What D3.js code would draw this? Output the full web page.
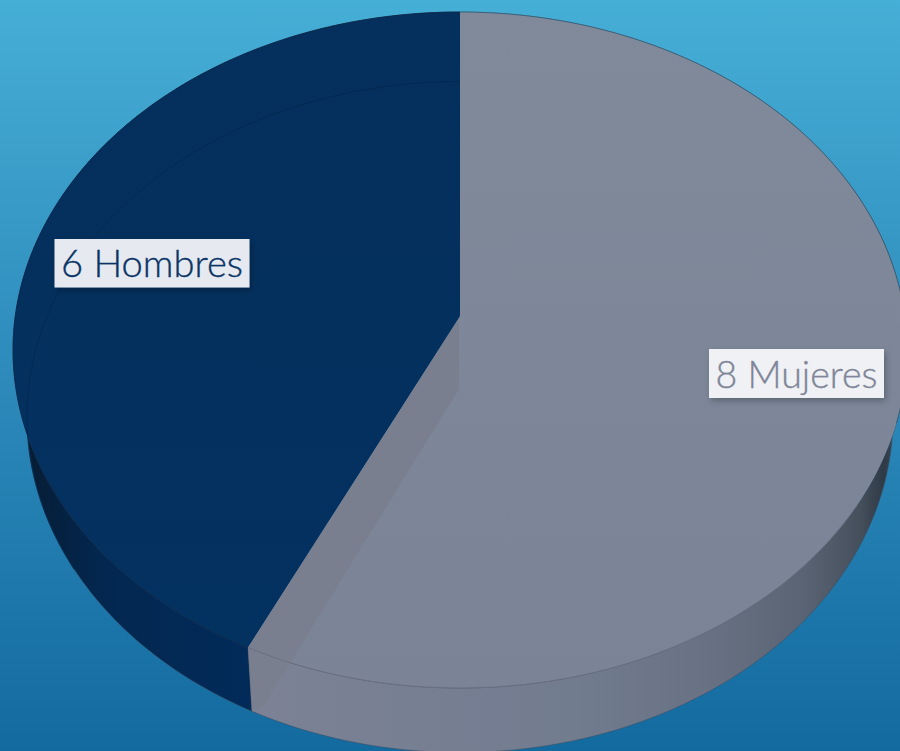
<!DOCTYPE html>
<html><head><meta charset="utf-8">
<script src="https://cdn.jsdelivr.net/npm/d3@7"></script>
<style>html,body{margin:0;padding:0;background:#2a85b8}svg{display:block}</style></head>
<body><svg id="c" width="900" height="751"></svg>
<script>
const categories = ["Mujeres", "Hombres"];
const values = [8, 6];
const labels = ["8 Mujeres", "6 Hombres"];
const topColors = ["#7c8698", "#04305e"];
const textColors = ["#7f8699", "#0a3566"];
const boxFills = ["#f0f1f4", "#e6e9f0"];
const W = 900, H = 751;
const topRim = {cx:460, cy:350, rx:447, ry:338, k:-0.1};
const botRim = {cx:460, cy:417, rx:433, ry:335.5, k:-0.115};
const cutBottom = {x:263, y:707, apexX:459, apexY:389};
const boxes = [{x:709,y:349,w:175,h:49},{x:54.5,y:239,w:195,h:48.5}];

function project(p, a){
  const u = Math.sin(a), v = -Math.cos(a), d = 1 + p.k*v;
  return [p.cx + p.rx*u*Math.sqrt(1-p.k*p.k)/d, p.cy + p.ry*(v+p.k)/d];
}
const arcs = d3.pie().sort(null)(values);
const samples = (s,e) => d3.range(0,181).map(i => s+(e-s)*i/180);
const line = d3.line();
const svg = d3.select("#c");
const defs = svg.append("defs");
function grad(id,attrs,stops){
  const g = defs.append("linearGradient").attr("id",id).attr("gradientUnits","userSpaceOnUse");
  Object.entries(attrs).forEach(([k,v])=>g.attr(k,v));
  stops.forEach(([o,c])=>g.append("stop").attr("offset",o).attr("stop-color",c));
}
grad("bg",{x1:0,y1:0,x2:0,y2:H},[[0,"#46afd6"],[0.5,"#2d8abb"],[1,"#136a9f"]]);
grad("wall0",{x1:250,y1:0,x2:900,y2:0},[[0,"#7d8295"],[0.25,"#777f93"],[0.5,"#727c8f"],[0.7,"#687284"],[0.85,"#5a6474"],[0.94,"#454f5c"],[0.975,"#2f3a47"],[0.99,"#3a4552"],[1,"#6f7a8a"]]);
grad("wall1",{x1:15,y1:0,x2:255,y2:0},[[0,"#081a2e"],[0.12,"#061f3b"],[0.35,"#03274f"],[1,"#022b5a"]]);
grad("top0",{x1:0,y1:0,x2:0,y2:700},[[0,"#808a9b"],[1,"#7a8496"]]);
grad("top1",{x1:0,y1:0,x2:0,y2:650},[[0,"#052f5c"],[1,"#033160"]]);
const shadow = defs.append("filter").attr("id","sh").attr("x","-10%").attr("y","-20%").attr("width","125%").attr("height","150%");
shadow.append("feDropShadow").attr("dx",2).attr("dy",3).attr("stdDeviation",3).attr("flood-color","#000").attr("flood-opacity",0.25);

svg.append("rect").attr("width",W).attr("height",H).attr("fill","url(#bg)");

// outer side walls
svg.selectAll("path.wall").data(arcs).join("path").attr("class","wall")
  .attr("d",d=>{
    const a = samples(d.startAngle,d.endAngle);
    return line([...a.map(x=>project(topRim,x)),...a.slice().reverse().map(x=>project(botRim,x))])+"Z";
  })
  .attr("fill",(d,i)=>`url(#wall${i})`).attr("stroke","#3b4a5c").attr("stroke-width",0.5);

// top faces
const apexPt = [topRim.cx, topRim.cy + topRim.ry*topRim.k];
svg.selectAll("path.face").data(arcs).join("path").attr("class","face")
  .attr("d",d=>line([apexPt,...samples(d.startAngle,d.endAngle).map(x=>project(topRim,x))])+"Z")
  .attr("fill",(d,i)=>`url(#top${i})`);

// faint back rim of the base, seen through the dark slice
const dark = arcs[1];
svg.append("path").attr("fill","none").attr("stroke","#02274f").attr("stroke-width",0.8)
  .attr("d",line(samples(dark.startAngle+0.55,dark.endAngle).map(x=>project(botRim,x))));

// cut face of the grey slice, seen through its top
const seamAngle = arcs[0].endAngle;
const seamTop = project(topRim,seamAngle), seamBot = project(botRim,seamAngle);
svg.append("path").attr("fill","#7a7e8f").attr("fill-opacity",0.9)
  .attr("d",line([apexPt,seamTop,seamBot,[cutBottom.x,cutBottom.y],[cutBottom.apexX,cutBottom.apexY],[cutBottom.apexX,apexPt[1]]])+"Z");

// front rim line on grey slice
svg.append("path").attr("fill","none").attr("stroke","#6c7080").attr("stroke-width",1)
  .attr("d",line(samples(Math.PI*0.68,seamAngle).map(x=>project(topRim,x))));

// thin outline
svg.append("path").attr("fill","none").attr("stroke","#2b5670").attr("stroke-width",0.7)
  .attr("d",line(samples(0,Math.PI*0.6).map(x=>project(topRim,x))));
svg.append("path").attr("fill","none").attr("stroke","#0a2a4c").attr("stroke-width",0.8)
  .attr("d",line(samples(seamAngle,Math.PI*2).map(x=>project(topRim,x))));

// labels
const lab = svg.selectAll("g.lab").data(labels).join("g").attr("class","lab");
lab.append("rect").attr("x",(d,i)=>boxes[i].x).attr("y",(d,i)=>boxes[i].y)
  .attr("width",(d,i)=>boxes[i].w).attr("height",(d,i)=>boxes[i].h)
  .attr("fill",(d,i)=>boxFills[i]).attr("filter","url(#sh)");
lab.append("text").text(d=>d)
  .attr("x",(d,i)=>boxes[i].x+boxes[i].w/2).attr("y",(d,i)=>boxes[i].y+boxes[i].h/2+14)
  .attr("text-anchor","middle").attr("font-family","Lato, 'Open Sans', sans-serif")
  .attr("font-weight",300).attr("font-size",37).attr("fill",(d,i)=>textColors[i])
  .attr("stroke",(d,i)=>textColors[i]).attr("stroke-width",0.35)
  .attr("textLength",(d,i)=>boxes[i].w-13).attr("lengthAdjust","spacingAndGlyphs");
</script></body></html>
